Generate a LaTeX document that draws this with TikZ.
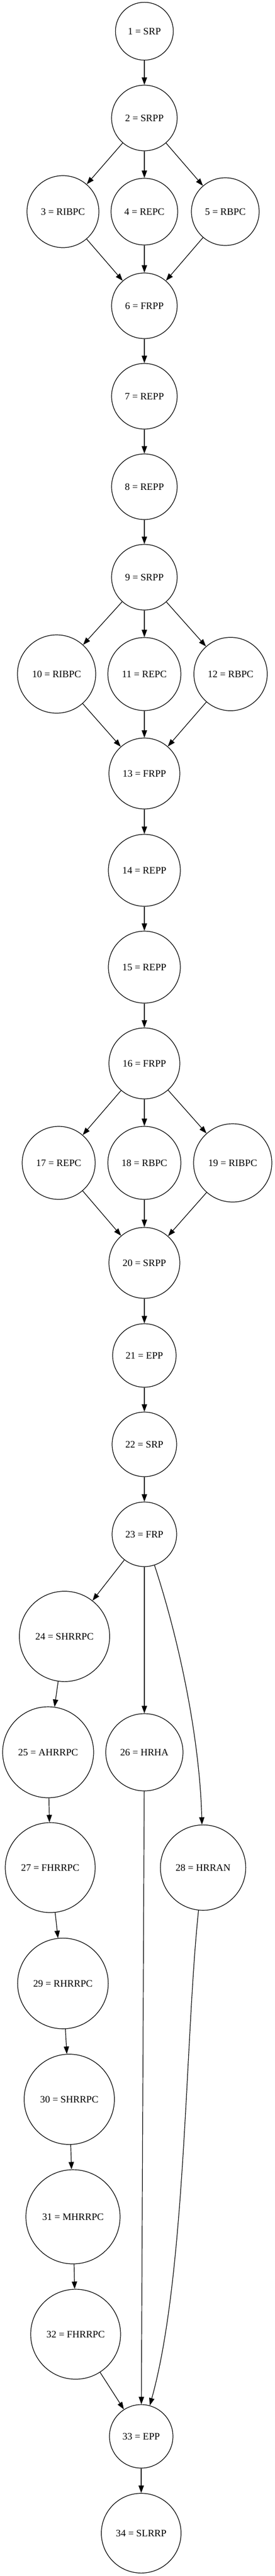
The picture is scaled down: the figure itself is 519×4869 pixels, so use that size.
\documentclass[tikz,border=0pt]{standalone}
\usepackage{fontspec}
\setmainfont{Liberation Serif}
\usetikzlibrary{automata,arrows.meta}

\begin{document}
\begin{tikzpicture}[->, >={Triangle[length=10.5pt,width=7.5pt]}, line width=0.9pt, x=0.75pt, y=-0.75pt]  % units are px of the plot, y down
  \tikzstyle{every state}=[draw=black,fill=white,text=black,inner sep=0pt,font=\fontsize{14}{17}\selectfont]
  \useasboundingbox (0,0) rectangle (519,4869);
  \node[state, minimum size=82pt]    (n1)  at (273,59)   {1 = SRP};
  \node[state, minimum size=93pt]    (n2)  at (273,223)  {2 = SRPP};
  \node[state, minimum size=102pt]   (n3)  at (119,400)  {3 = RIBPC};
  \node[state, minimum size=94.5pt]  (n4)  at (273,400)  {4 = REPC};
  \node[state, minimum size=96pt]    (n5)  at (426,400)  {5 = RBPC};
  \node[state, minimum size=93pt]    (n6)  at (273,578)  {6 = FRPP};
  \node[state, minimum size=93pt]    (n7)  at (273,749)  {7 = REPP};
  \node[state, minimum size=93pt]    (n8)  at (273,920)  {8 = REPP};
  \node[state, minimum size=93pt]    (n9)  at (273,1091) {9 = SRPP};
  \node[state, minimum size=111pt]   (n10) at (107,1274) {10 = RIBPC};
  \node[state, minimum size=103.5pt] (n11) at (273,1274) {11 = REPC};
  \node[state, minimum size=104pt]   (n12) at (436,1274) {12 = RBPC};
  \node[state, minimum size=100.5pt] (n13) at (273,1462) {13 = FRPP};
  \node[state, minimum size=102pt]   (n14) at (273,1645) {14 = REPP};
  \node[state, minimum size=102pt]   (n15) at (273,1828) {15 = REPP};
  \node[state, minimum size=100.5pt] (n16) at (273,2010) {16 = FRPP};
  \node[state, minimum size=103.5pt] (n17) at (111,2198) {17 = REPC};
  \node[state, minimum size=103.5pt] (n18) at (273,2198) {18 = RBPC};
  \node[state, minimum size=111pt]   (n19) at (440,2198) {19 = RIBPC};
  \node[state, minimum size=100.5pt] (n20) at (273,2387) {20 = SRPP};
  \node[state, minimum size=90pt]    (n21) at (273,2562) {21 = EPP};
  \node[state, minimum size=91.5pt]  (n22) at (273,2730) {22 = SRP};
  \node[state, minimum size=91.5pt]  (n23) at (273,2900) {23 = FRP};
  \node[state, minimum size=128pt]   (n24) at (122,3093) {24 = SHRRPC};
  \node[state, minimum size=129pt]   (n25) at (91,3312)  {25 = AHRRPC};
  \node[state, minimum size=109.5pt] (n26) at (273,3312) {26 = HRHA};
  \node[state, minimum size=127.5pt] (n27) at (95,3530)  {27 = FHRRPC};
  \node[state, minimum size=121pt]   (n28) at (384,3530) {28 = HRRAN};
  \node[state, minimum size=128.5pt] (n29) at (119,3749) {29 = RHRRPC};
  \node[state, minimum size=128pt]   (n30) at (131,3968) {30 = SHRRPC};
  \node[state, minimum size=133.5pt] (n31) at (138,4190) {31 = MHRRPC};
  \node[state, minimum size=127.5pt] (n32) at (143,4412) {32 = FHRRPC};
  \node[state, minimum size=90pt]    (n33) at (267,4605) {33 = EPP};
  \node[state, minimum size=113pt]   (n34) at (267,4788) {34 = SLRRP};
  \path (n1)  edge (n2)
        (n2)  edge (n3)
              edge (n4)
              edge (n5)
        (n3)  edge (n6)
        (n4)  edge (n6)
        (n5)  edge (n6)
        (n6)  edge (n7)
        (n7)  edge (n8)
        (n8)  edge (n9)
        (n9)  edge (n10)
              edge (n11)
              edge (n12)
        (n10) edge (n13)
        (n11) edge (n13)
        (n12) edge (n13)
        (n13) edge (n14)
        (n14) edge (n15)
        (n15) edge (n16)
        (n16) edge (n17)
              edge (n18)
              edge (n19)
        (n17) edge (n20)
        (n18) edge (n20)
        (n19) edge (n20)
        (n20) edge (n21)
        (n21) edge (n22)
        (n22) edge (n23)
        (n23) edge (n24)
              edge (n26)
        (n24) edge (n25)
        (n25) edge (n27)
        (n27) edge (n29)
        (n29) edge (n30)
        (n30) edge (n31)
        (n31) edge (n32)
        (n32) edge (n33)
        (n26) edge (n33)
        (n33) edge (n34);
  \draw (n23) .. controls (345,3120) and (378,3300) .. (n28);
  \draw (n28) .. controls (350,3850) and (352,4300) .. (n33);
\end{tikzpicture}
\end{document}
